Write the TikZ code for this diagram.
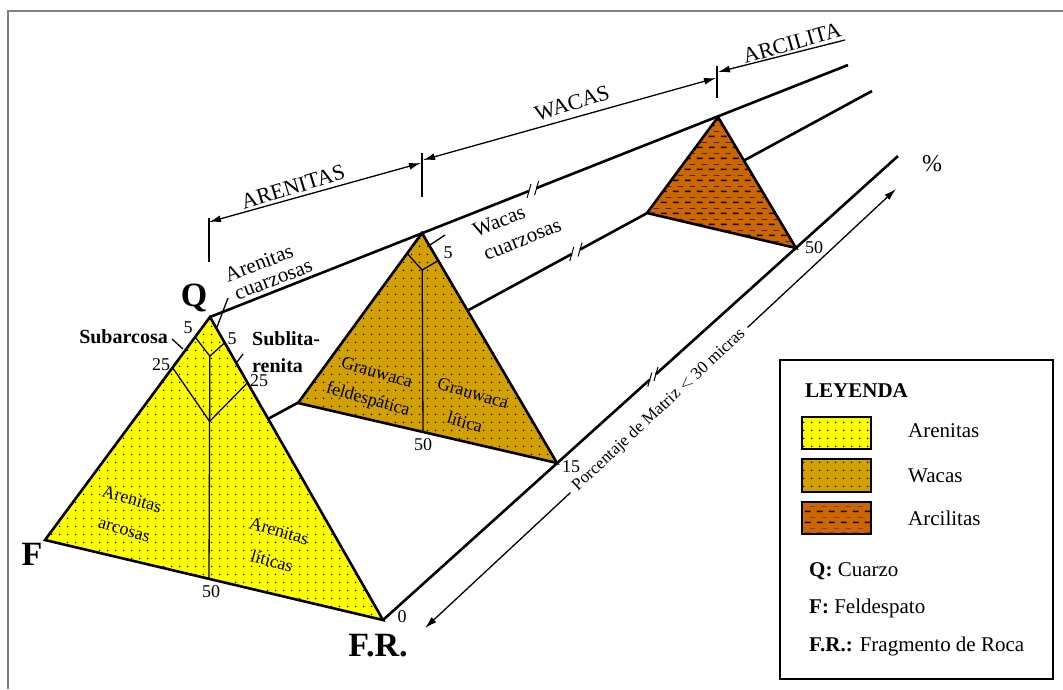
\documentclass[tikz,border=0pt]{standalone}
\usepackage{fontspec}
\setmainfont{Liberation Serif}
\usetikzlibrary{arrows.meta,calc,patterns.meta}

\newcommand{\fsz}[1]{\fontsize{#1}{#1}\selectfont}

\definecolor{arenita}{RGB}{255,255,0}
\definecolor{waca}{RGB}{210,160,0}
\definecolor{arcilla}{RGB}{204,102,0}
\definecolor{marco}{RGB}{128,128,128}

% tramas
\tikzdeclarepattern{
  name=puntos,
  type=uncolored,
  bottom left={(0pt,0pt)},
  top right={(8pt,8pt)},
  tile size={(8pt,8pt)},
  code={\fill (4pt,4pt) circle (0.9pt);}
}
\tikzdeclarepattern{
  name=rayas,
  type=uncolored,
  bottom left={(0pt,0pt)},
  top right={(12pt,11pt)},
  tile size={(12pt,11pt)},
  code={
    \draw[line width=1.6pt] (1pt,2.75pt) -- (7pt,2.75pt);
    \draw[line width=0.4pt] (6pt,8.25pt) -- (12pt,8.25pt);
  }
}

\tikzset{
  eje/.style={line width=2.6pt},
  triang/.style={line width=2.6pt, line join=miter},
  subdiv/.style={line width=1.3pt},
  cota/.style={line width=1.3pt},
  corte/.style={line width=1pt},
  vert/.style={font=\fsz{34}\bfseries, inner sep=0pt},
  grupo/.style={font=\fsz{22}, inner sep=0pt},
  nombre/.style={font=\fsz{21}, inner sep=0pt},
  campo/.style={font=\fsz{18}, inner sep=0pt, rotate=-16},
  num/.style={font=\fsz{18}, inner sep=0pt},
  ley/.style={font=\fsz{21}, inner sep=0pt, anchor=west},
  muestra/.style={line width=1.2pt}
}

\begin{document}
\begin{tikzpicture}[x=1pt, y=-1pt, >={Latex[length=12pt,width=7pt]}]

  \useasboundingbox (0,0) rectangle (1063,689);
  \draw[marco, line width=2pt] (8,689) -- (8,11) -- (1063,11);

  % ============================================================
  % Vertices de los tres triangulos
  % ============================================================

  \coordinate (Q1) at (210,317);
  \coordinate (F1) at (45,540);
  \coordinate (R1) at (383,620);
  \coordinate (M1) at (209,578);

  \coordinate (Q2) at (422,233);
  \coordinate (F2) at (298,403);
  \coordinate (R2) at (557,463);
  \coordinate (M2) at (423,432);

  \coordinate (Q3) at (718,117);
  \coordinate (F3) at (647,213);
  \coordinate (R3) at (796,248);

  \coordinate (Qe) at (848,65);
  \coordinate (Fe) at (872,91);
  \coordinate (Re) at (898,156);

  % ============================================================
  % Ejes hacia el fondo (con cortes)
  % ============================================================

  \coordinate (qa) at ($(Q1)!0.500!(Qe)$);
  \coordinate (qb) at ($(Q1)!0.512!(Qe)$);
  \coordinate (fa) at ($(F1)!0.637!(Fe)$);
  \coordinate (fb) at ($(F1)!0.647!(Fe)$);
  \coordinate (ra) at ($(R1)!0.518!(Re)$);
  \coordinate (rb) at ($(R1)!0.530!(Re)$);

  \draw[eje] (Q1) -- (qa);
  \draw[eje] (qb) -- (Qe);
  \draw[eje] (F1) -- (fa);
  \draw[eje] (fb) -- (Fe);
  \draw[eje] (R1) -- (ra);
  \draw[eje] (rb) -- (Re);

  \foreach \p in {qa,qb,fa,fb,ra,rb}
    \draw[corte] ($(\p)+(-2,7)$) -- ($(\p)+(2,-7)$);

  % ============================================================
  % Arcilitas
  % ============================================================

  \fill[arcilla, postaction={pattern=rayas}] (Q3) -- (F3) -- (R3) -- cycle;
  \draw[triang] (Q3) -- (F3) -- (R3) -- cycle;

  % ============================================================
  % Wacas
  % ============================================================

  \fill[waca, postaction={pattern=puntos}] (Q2) -- (F2) -- (R2) -- cycle;
  \coordinate (c2) at ($(Q2)!0.186!(M2)$);
  \draw[subdiv] ($(Q2)!0.12!(F2)$) -- (c2) -- ($(Q2)!0.12!(R2)$);
  \draw[subdiv] (c2) -- (M2);
  \draw[triang] (Q2) -- (F2) -- (R2) -- cycle;

  \node[campo] (gwf1) at (377,372) {Grauwaca};
  \node[campo] (gwf2) at (368,400) {feldespática};
  \node[campo] (gwl1) at (473,393) {Grauwaca};
  \node[campo] (gwl2) at (465,422) {lítica};

  % ============================================================
  % Arenitas
  % ============================================================

  \fill[arenita, postaction={pattern=puntos}] (Q1) -- (F1) -- (R1) -- cycle;
  \coordinate (c5) at ($(Q1)!0.15!(M1)$);
  \coordinate (c25) at ($(Q1)!0.40!(M1)$);
  \draw[subdiv] ($(Q1)!0.09!(F1)$) -- (c5) -- ($(Q1)!0.085!(R1)$);
  \draw[subdiv] ($(Q1)!0.227!(F1)$) -- (c25) -- ($(Q1)!0.217!(R1)$);
  \draw[subdiv] (c5) -- (M1);
  \draw[triang] (Q1) -- (F1) -- (R1) -- cycle;

  \node[campo] (aar1) at (132,499) {Arenitas};
  \node[campo] (aar2) at (124,531) {arcosas};
  \node[campo] (ali1) at (279,531) {Arenitas};
  \node[campo] (ali2) at (272,561) {líticas};

  % ============================================================
  % Vertices y valores
  % ============================================================

  \node[vert] (lblQ) at (194,298) {Q};
  \node[vert] (lblF) at (32,554) {F};
  \node[vert] (lblFR) at (378,646) {F.R.};

  \node[num] (n5a) at (188,328) {5};
  \node[num] (n5b) at (232,339) {5};
  \node[num] (n25a) at (161,365) {25};
  \node[num] (n25b) at (259,381) {25};
  \node[num] (n50a) at (211,592) {50};
  \node[num] (n0) at (402,617) {0};
  \node[num] (n5c) at (448,253) {5};
  \node[num] (n50b) at (423,445) {50};
  \node[num] (n15) at (571,467) {15};
  \node[num] (n50c) at (814,248) {50};

  % nombres de campos
  \node[nombre, font=\fsz{20}\bfseries, anchor=east] (subarc) at (168,337) {Subarcosa};
  \node[nombre, font=\fsz{20}\bfseries, anchor=west] (sublit1) at (252,339) {Sublita-};
  \node[nombre, font=\fsz{20}\bfseries, anchor=west] (sublit2) at (252,366) {renita};
  \node[nombre, rotate=21] (acz1) at (259,263) {Arenitas};
  \node[nombre, rotate=21] (acz2) at (274,281) {cuarzosas};
  \node[nombre, rotate=22] (wcz1) at (499,221) {Wacas};
  \node[nombre, rotate=22] (wcz2) at (523,241) {cuarzosas};

  % indicadores
  \draw[subdiv] (172,339) -- (183,349);
  \draw[subdiv] (237,362) -- (243,354);
  \draw[subdiv] (228,298) -- (217,327);
  \draw[subdiv] (445,235) -- (430,245);

  % ============================================================
  % Cotas superiores
  % ============================================================

  \draw[cota] (209,218) -- (209,262);
  \draw[cota] (422,153) -- (422,197);
  \draw[cota] (717,66) -- (717,98);

  \draw[cota, <->] (209,222) -- (421,163);
  \draw[cota, <->] (423,160) -- (716,78);
  \draw[cota, ->] (845,40) -- (718,72);

  \node[grupo, rotate=17] (gAren) at (293,187) {ARENITAS};
  \node[grupo, rotate=17] (gWaca) at (572,103) {WACAS};
  \node[grupo, rotate=16] (gArci) at (792,43) {ARCILITA};

  % ============================================================
  % Eje de matriz
  % ============================================================

  \node[num, font=\fsz{17}, rotate=43, inner sep=6pt] (matriz) at (659,410)
    {Porcentaje de Matriz $<$ 30 micras};
  \coordinate (pctTip) at (896,189);
  \coordinate (frTip) at (425,628);
  \draw[cota, ->] (matriz.east) -- (pctTip);
  \draw[cota, ->] (matriz.west) -- (frTip);
  \node[grupo, font=\fsz{24}] (pct) at (932,164) {\%};

  % ============================================================
  % Leyenda
  % ============================================================

  \draw[line width=1.6pt] (780,360) rectangle (1053,679);
  \node[ley, font=\fsz{21}\bfseries] (leyTit) at (805,391) {LEYENDA};

  \filldraw[muestra, fill=arenita, postaction={pattern=puntos}] (802,417) rectangle (871,449);
  \filldraw[muestra, fill=waca, postaction={pattern=puntos}] (802,459) rectangle (871,492);
  \filldraw[muestra, fill=arcilla, postaction={pattern=rayas}] (802,502) rectangle (871,534);

  \node[ley] (leyA) at (908,431) {Arenitas};
  \node[ley] (leyW) at (908,476) {Wacas};
  \node[ley] (leyR) at (908,518) {Arcilitas};

  \node[ley] (leyQ) at (809,571) {\textbf{Q:} Cuarzo};
  \node[ley] (leyF) at (809,608) {\textbf{F:} Feldespato};
  \node[ley] (leyFR) at (809,646) {\textbf{F.R.:} Fragmento de Roca};

\end{tikzpicture}
\end{document}
